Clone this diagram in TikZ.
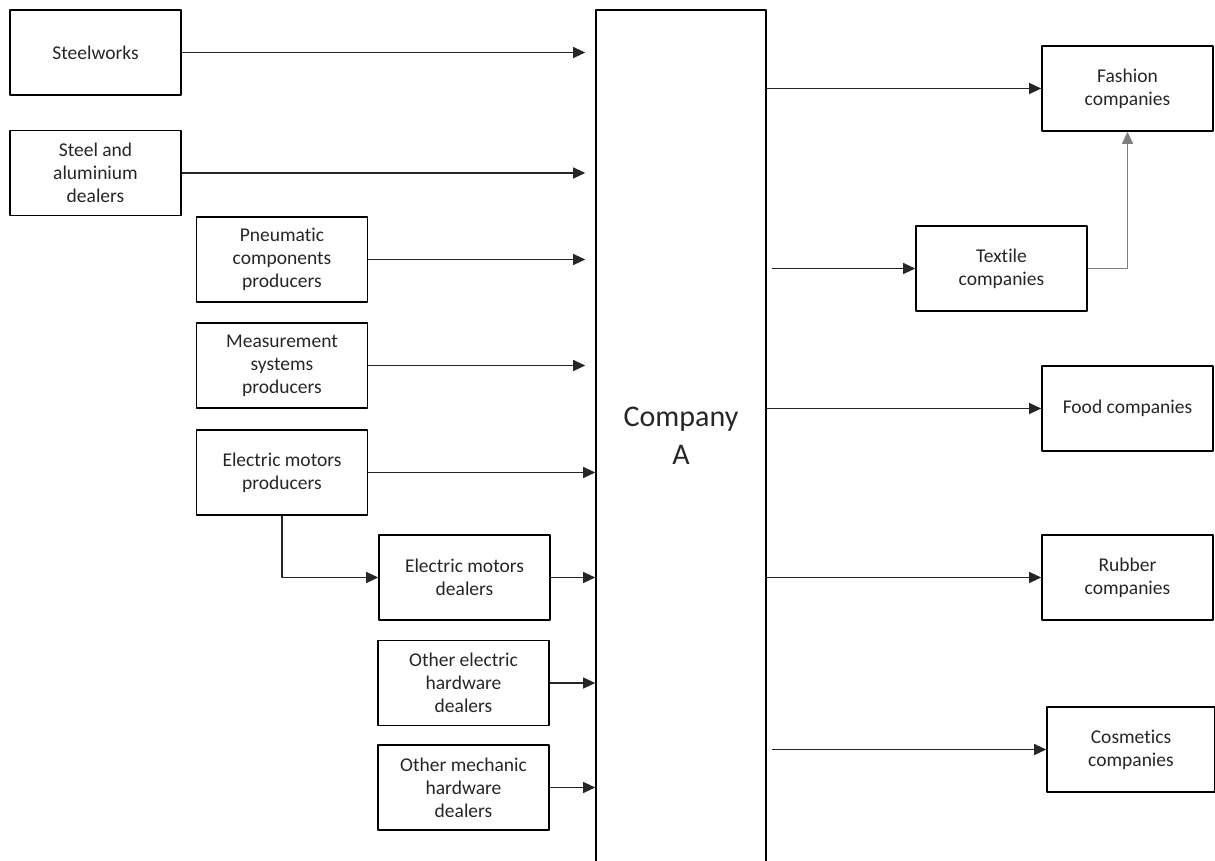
\documentclass[tikz,border=0pt]{standalone}
\usepackage{fontspec}
\setmainfont{Carlito}[Ligatures=NoCommon]
\usetikzlibrary{arrows.meta}
\begin{document}
\begin{tikzpicture}[x=1pt, y=-1pt, line join=round, >={Triangle[length=12pt,width=11pt]},
	box/.style={draw, line width=1.6pt, minimum width=171pt, minimum height=85pt, align=center, inner sep=2pt, text=black!85, font=\fontsize{19.5}{23}\selectfont},
	arr/.style={->, line width=1.1pt, black!85}]
			\useasboundingbox (0,0) rectangle (1215,860);
			\clip (0,0) rectangle (1215,860);
			% company
			\node[draw, line width=1.6pt, minimum width=170pt, minimum height=852pt, align=center, text=black!85, font=\fontsize{30}{38}\selectfont](compA) at (681,436){Company\\A};
			% suppliers
			\node[box](steel) at (95.5,52.5){Steelworks};
			\node[box](stal) at (95.5,173){Steel and\\aluminium\\dealers};
			\node[box](pneu) at (282,259.5){Pneumatic\\components\\producers};
			\node[box](meas) at (282,365.5){Measurement\\systems\\producers};
			\node[box](emp) at (282,472.5){Electric motors\\producers};
			\node[box](emd) at (464.5,577.5){Electric motors\\dealers};
			\node[box](oehd) at (463.5,683){Other electric\\hardware\\dealers};
			\node[box](omhd) at (463.5,787.5){Other mechanic\\hardware\\dealers};
			% customers
			\node[box](fash) at (1127.5,88.5){Fashion\\companies};
			\node[box](text) at (1001.5,268.5){Textile\\companies};
			\node[box](food) at (1127.5,408.5){Food companies};
			\node[box](rubb) at (1127.5,577.5){Rubber\\companies};
			\node[box, minimum width=168pt](cosm) at (1131,749.5){Cosmetics\\companies};
			% in
			\foreach \n in {steel,stal,pneu,meas}\draw[arr, shorten >=10pt](\n.east)--(\n.east -| compA.west);
			\foreach \n in {emp,emd,oehd,omhd}\draw[arr](\n.east)--(\n.east -| compA.west);
			\draw[arr](emp.south)|-(emd.west);
			% out
			\foreach \n in {fash,food,rubb}\draw[arr](\n.west -| compA.east)--(\n.west);
			\foreach \n in {text,cosm}\draw[arr, shorten <=5pt](\n.west -| compA.east)--(\n.west);
			\draw[arr, gray](text.east)-|(fash.south);
			
	\end{tikzpicture}
\end{document}
